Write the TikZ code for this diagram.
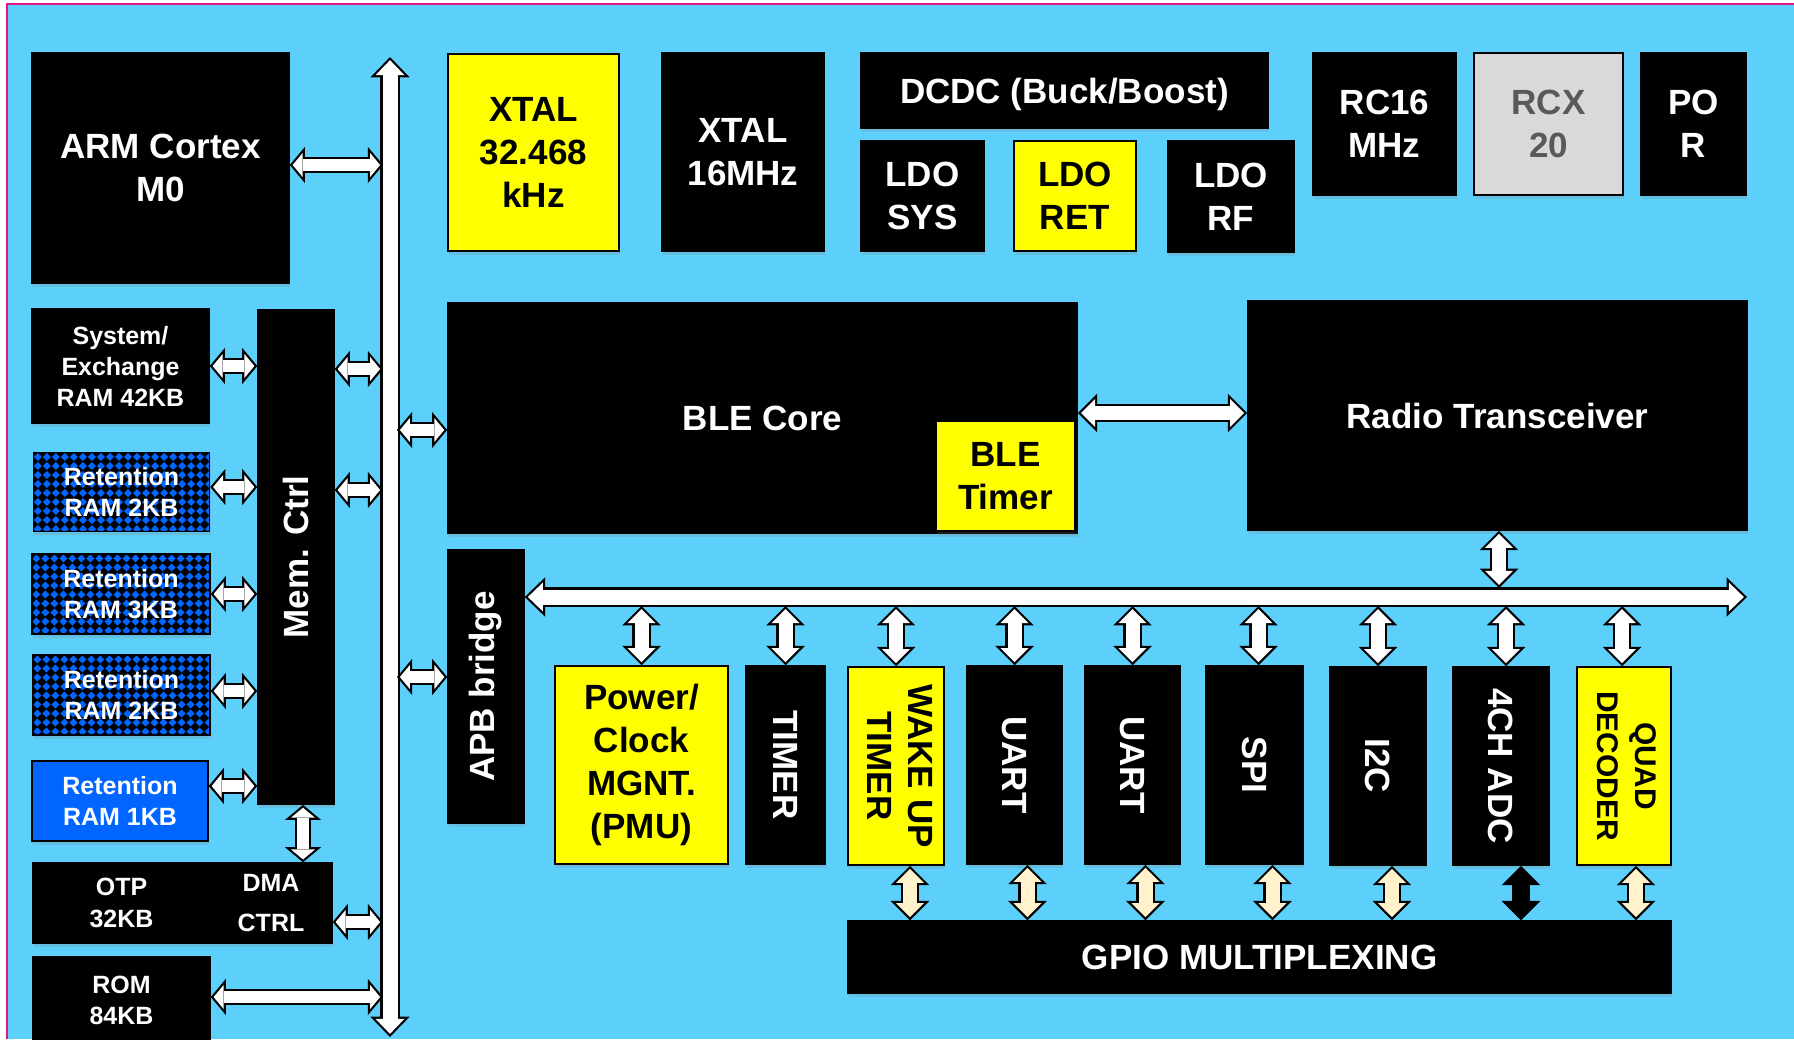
\documentclass[tikz,border=0pt]{standalone}
\usepackage{fontspec}
\setmainfont{Liberation Sans}
\usepackage{graphicx}
\usetikzlibrary{arrows.meta,shadows}

\definecolor{chipbg}{RGB}{92,208,251}
\definecolor{framepink}{RGB}{230,20,130}
\definecolor{hiyellow}{RGB}{255,255,0}
\definecolor{retblue}{RGB}{0,102,255}
\definecolor{cream}{RGB}{255,242,204}
\definecolor{rcxgray}{RGB}{217,217,217}
\definecolor{rcxtext}{RGB}{89,89,89}

\newcommand{\largelbl}{\fontsize{9.96}{12.2}\selectfont}
\newcommand{\smalllbl}{\fontsize{7.1}{8.8}\selectfont}

% block arrows: black outline pass, then coloured inner pass
\newcommand{\linkA}[3][white]{\draw[outA] #2 -- #3; \draw[inA=#1] #2 -- #3;}
\newcommand{\linkB}[3][white]{\draw[outB] #2 -- #3; \draw[inB=#1] #2 -- #3;}
\newcommand{\linkC}[3][white]{\draw[outC] #2 -- #3; \draw[inC=#1] #2 -- #3;}

\tikzset{
  chipbox/.style={rectangle, inner sep=0pt, draw=black, line width=0.4pt, align=center,
    font=\bfseries\largelbl,
    drop shadow={shadow xshift=0.01cm, shadow yshift=-0.035cm, opacity=0.22}},
  blkbox/.style={chipbox, fill=black, text=white},
  ylwbox/.style={chipbox, fill=hiyellow, text=black},
  retbox/.style={blkbox, font=\bfseries\smalllbl, path picture={
      \foreach \i in {0,...,20} \foreach \j in {0,...,9}
        \fill[retblue] ([xshift=0.045cm+\i*0.09cm, yshift=-0.045cm-\j*0.09cm]path picture bounding box.north west)
          +(-0.04cm,0) -- +(0,0.04cm) -- +(0.04cm,0) -- +(0,-0.04cm) -- cycle;}},
  outA/.style={draw=black, line width=0.164cm,
    {Triangle[length=0.1506cm,width=0.361cm,line width=0pt]}-{Triangle[length=0.1506cm,width=0.361cm,line width=0pt]}},
  inA/.style={draw=#1, line width=0.12cm, shorten <=0.0286cm, shorten >=0.0286cm,
    {Triangle[length=0.10cm,width=0.24cm,line width=0pt]}-{Triangle[length=0.10cm,width=0.24cm,line width=0pt]}},
  inA/.default=white,
  outB/.style={draw=black, line width=0.184cm,
    {Triangle[length=0.1931cm,width=0.386cm,line width=0pt]}-{Triangle[length=0.1931cm,width=0.386cm,line width=0pt]}},
  inB/.style={draw=#1, line width=0.14cm, shorten <=0.0311cm, shorten >=0.0311cm,
    {Triangle[length=0.14cm,width=0.28cm,line width=0pt]}-{Triangle[length=0.14cm,width=0.28cm,line width=0pt]}},
  inB/.default=white,
  outC/.style={draw=black, line width=0.194cm,
    {Triangle[length=0.2037cm,width=0.394cm,line width=0pt]}-{Triangle[length=0.2037cm,width=0.394cm,line width=0pt]}},
  inC/.style={draw=#1, line width=0.15cm, shorten <=0.0317cm, shorten >=0.0317cm,
    {Triangle[length=0.15cm,width=0.29cm,line width=0pt]}-{Triangle[length=0.15cm,width=0.29cm,line width=0pt]}},
  inC/.default=white,
}

\begin{document}
\begin{tikzpicture}[x=0.01cm, y=-0.01cm]
  \useasboundingbox (0,0) rectangle (1794,1039);
  \fill[white] (0,0) rectangle (1794,1039);
  \fill[chipbg] (7,4) rectangle (1794,1039);
  \draw[framepink, line width=0.018cm] (7,1039) -- (7,4) -- (1794,4);

  % top row
  \node[blkbox, minimum width=2.57cm, minimum height=2.30cm] (arm) at (160.5,168) {ARM Cortex\\M0};
  \node[ylwbox, minimum width=1.71cm, minimum height=1.97cm] (xtal32) at (533.5,152.5) {XTAL\\32.468\\kHz};
  \node[blkbox, minimum width=1.62cm, minimum height=1.98cm] (xtal16) at (743,152) {XTAL\\16MHz};
  \node[blkbox, text depth=0pt, minimum width=4.07cm, minimum height=0.75cm] (dcdc) at (1064.5,90.5) {DCDC (Buck/Boost)};
  \node[blkbox, minimum width=1.23cm, minimum height=1.10cm] (ldosys) at (922.5,196) {LDO\\SYS};
  \node[ylwbox, minimum width=1.22cm, minimum height=1.10cm] (ldoret) at (1075,196) {LDO\\RET};
  \node[blkbox, minimum width=1.26cm, minimum height=1.11cm] (ldorf) at (1231,196.5) {LDO\\RF};
  \node[blkbox, minimum width=1.43cm, minimum height=1.42cm] (rc16) at (1384.5,124) {RC16\\MHz};
  \node[chipbox, fill=rcxgray, text=rcxtext, minimum width=1.49cm, minimum height=1.42cm] (rcx) at (1548.5,124) {RCX\\20};
  \node[blkbox, minimum width=1.05cm, minimum height=1.42cm] (por) at (1693.5,124) {PO\\R};

  % memories
  \node[blkbox, font=\bfseries\smalllbl, minimum width=1.77cm, minimum height=1.14cm] (sysram) at (120.5,366) {System/\\Exchange\\RAM 42KB};
  \node[retbox, minimum width=1.76cm, minimum height=0.79cm] (ret2a) at (121.5,492) {Retention\\RAM 2KB};
  \node[retbox, minimum width=1.78cm, minimum height=0.80cm] (ret3) at (121,594) {Retention\\RAM 3KB};
  \node[retbox, minimum width=1.77cm, minimum height=0.80cm] (ret2b) at (121.5,695) {Retention\\RAM 2KB};
  \node[chipbox, fill=retblue, text=white, font=\bfseries\smalllbl, minimum width=1.76cm, minimum height=0.80cm] (ret1) at (120,801) {Retention\\RAM 1KB};
  \node[blkbox, minimum width=0.76cm, minimum height=4.94cm] (memctrl) at (296,557) {\rotatebox{90}{Mem. Ctrl}};
  \node[blkbox, font=\bfseries\fontsize{7.1}{9.1}\selectfont, minimum width=1.77cm, minimum height=0.80cm] (otp) at (121.5,903) {OTP\\32KB};
  \node[blkbox, font=\bfseries\fontsize{7.1}{11.1}\selectfont, minimum width=1.22cm, minimum height=0.80cm] (dma) at (271,903) {DMA\\CTRL};
  \node[blkbox, font=\bfseries\smalllbl, minimum width=1.77cm, minimum height=0.86cm] (rom) at (121.5,1000) {ROM\\84KB};

  % radio part
  \node[blkbox, minimum width=6.29cm, minimum height=2.30cm] (ble) at (762.5,418) {BLE Core};
  \node[ylwbox, minimum width=1.39cm, minimum height=1.10cm] (bletimer) at (1005.5,476) {BLE\\Timer};
  \node[blkbox, minimum width=4.99cm, minimum height=2.29cm] (radio) at (1497.5,415.5) {Radio Transceiver};
  \node[blkbox, minimum width=0.76cm, minimum height=2.73cm] (apb) at (486,686.5) {\rotatebox{90}{APB bridge}};

  % peripherals
  \node[ylwbox, minimum width=1.73cm, minimum height=1.98cm] (pmu) at (641.5,765) {Power/\\Clock\\MGNT.\\(PMU)};
  \node[blkbox, minimum width=0.79cm, minimum height=1.98cm] (timer) at (785.5,765) {\rotatebox{-90}{TIMER}};
  \node[ylwbox, font=\bfseries\fontsize{9.96}{11.6}\selectfont, minimum width=0.96cm, minimum height=1.98cm] (wakeup) at (896,766)
    {\rotatebox{-90}{\begin{tabular}{@{}c@{}}WAKE UP\\TIMER\end{tabular}}};
  \node[blkbox, minimum width=0.95cm, minimum height=1.98cm] (uart1) at (1014.5,765) {\rotatebox{-90}{UART}};
  \node[blkbox, minimum width=0.95cm, minimum height=1.98cm] (uart2) at (1132.5,765) {\rotatebox{-90}{UART}};
  \node[blkbox, minimum width=0.97cm, minimum height=1.98cm] (spi) at (1254.5,765) {\rotatebox{-90}{SPI}};
  \node[blkbox, minimum width=0.96cm, minimum height=1.98cm] (i2c) at (1378,766) {\rotatebox{-90}{I2C}};
  \node[blkbox, minimum width=0.96cm, minimum height=1.98cm] (adc) at (1501,766) {\rotatebox{-90}{4CH ADC}};
  \node[ylwbox, font=\bfseries\fontsize{8.5}{10.8}\selectfont, minimum width=0.94cm, minimum height=1.98cm] (quad) at (1624,766)
    {\rotatebox{-90}{\begin{tabular}{@{}c@{}}QUAD\\DECODER\end{tabular}}};
  \node[blkbox, minimum width=8.23cm, minimum height=0.72cm] (gpio) at (1259.5,957) {GPIO MULTIPLEXING};

  % system bus
  \coordinate (bustop) at (390,57);
  \coordinate (busbot) at (390,1037);
  \coordinate (busL) at (383,0);
  \coordinate (busR) at (397,0);
  \linkC{(busbot)}{(bustop)}

  \path (arm.east) ++(0,-3) coordinate (a1);
  \linkA{(a1)}{(a1 -| busL)}
  \linkA{(sysram.east)}{(sysram.east -| memctrl.west)}
  \path (ret2a.east) ++(0,-5) coordinate (r2);
  \linkA{(r2)}{(r2 -| memctrl.west)}
  \linkA{(ret3.east)}{(ret3.east -| memctrl.west)}
  \path (ret2b.east) ++(0,-4) coordinate (r3);
  \linkA{(r3)}{(r3 -| memctrl.west)}
  \path (ret1.east) ++(0,-15) coordinate (r4);
  \linkA{(r4)}{(r4 -| memctrl.west)}
  \path (memctrl.east |- sysram.east) ++(0,3) coordinate (m1);
  \linkA{(m1)}{(m1 -| busL)}
  \path (memctrl.east |- ret2a.east) ++(0,-2) coordinate (m2);
  \linkA{(m2)}{(m2 -| busL)}
  \path (memctrl.south) ++(7,0) coordinate (md);
  \linkA{(md)}{(md |- dma.north)}
  \path (dma.east) ++(0,19) coordinate (d1);
  \linkA{(d1)}{(d1 -| busL)}
  \path (rom.east) ++(0,-3) coordinate (o1);
  \linkA{(o1)}{(o1 -| busL)}
  \path (ble.west) ++(0,12) coordinate (b1);
  \linkA{(b1 -| busR)}{(b1)}
  \path (apb.west) ++(0,-9.5) coordinate (p1);
  \linkA{(p1 -| busR)}{(p1)}

  % BLE to radio
  \path (ble.east) ++(0,-5) coordinate (br);
  \linkB{(br)}{(br -| radio.west)}

  % peripheral bus
  \coordinate (apbR) at (1747,597);
  \coordinate (apbN) at (1747,588);
  \coordinate (apbS) at (1747,606);
  \linkC{(apb.east |- apbR)}{(apbR)}
  \path (radio.south) ++(1.5,0) coordinate (rs);
  \linkB{(rs)}{(rs |- apbN)}
  \foreach \p/\dx in {pmu/0,timer/0,wakeup/0,uart1/0,uart2/0,spi/4,i2c/0,adc/5,quad/-2} {
    \path (\p.north) ++(\dx,0) coordinate (pt);
    \linkB{(pt |- apbS)}{(pt)}
  }

  % pins
  \foreach \p/\dx in {wakeup/14,uart1/13,uart2/13,spi/18,i2c/14,quad/12} {
    \path (\p.south) ++(\dx,0) coordinate (gt);
    \linkB[cream]{(gt)}{(gt |- gpio.north)}
  }
  \path (adc.south) ++(20,0) coordinate (ga);
  \linkB[black]{(ga)}{(ga |- gpio.north)}
\end{tikzpicture}
\end{document}
